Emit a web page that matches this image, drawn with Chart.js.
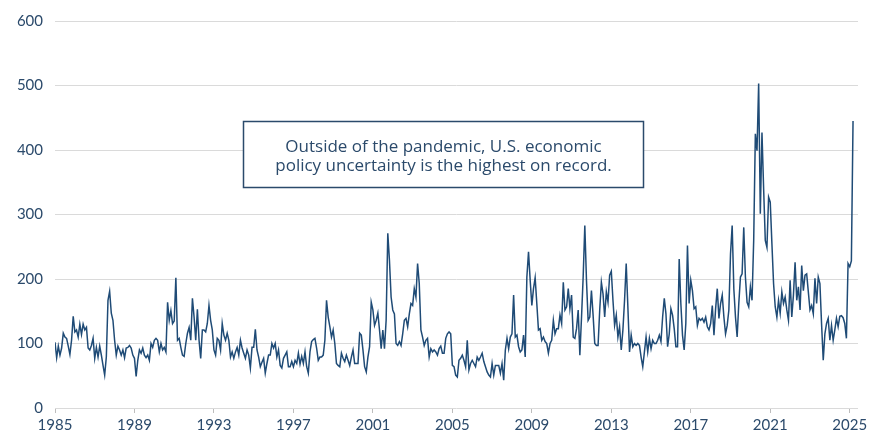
<!DOCTYPE html>
<html><head><meta charset="utf-8">
<script src="https://cdn.jsdelivr.net/npm/chart.js@4.4.1/dist/chart.umd.min.js"></script>
<style>html,body{margin:0;padding:0;background:#fff;}#wrap{width:872px;height:437px;}</style>
</head><body><div id="wrap"><canvas id="c" width="872" height="437"></canvas></div>
<script>
// Monthly U.S. economic policy uncertainty index, Jan 1985 onward
const epu1985_1989 = [
  102, 78, 96, 82, 93, 116, 110, 108, 96, 83, 105, 142,
  118, 121, 110, 130, 114, 130, 121, 125, 93, 90, 97, 108,
  77, 94, 79, 96, 82, 66, 51, 79, 167, 181, 147, 136,
  105, 82, 96, 90, 82, 90, 78, 93, 94, 97, 93, 82,
  77, 49, 74, 90, 85, 93, 82, 78, 82, 74, 100, 94
];
const epu1990_1994 = [
  105, 108, 105, 87, 100, 90, 94, 87, 164, 136, 151, 131,
  135, 202, 105, 108, 94, 82, 80, 100, 116, 125, 105, 170,
  141, 105, 153, 105, 77, 121, 121, 118, 131, 159, 136, 121,
  90, 82, 108, 105, 90, 131, 113, 105, 116, 105, 79, 87,
  77, 87, 94, 82, 105, 93, 85, 77, 90, 82, 62, 94
];
const epu1995_1999 = [
  94, 122, 90, 79, 64, 71, 77, 54, 69, 82, 82, 100,
  93, 100, 79, 90, 66, 62, 77, 82, 87, 64, 64, 72,
  64, 74, 69, 85, 68, 80, 69, 87, 64, 54, 87, 103,
  106, 108, 93, 74, 79, 79, 82, 105, 167, 141, 126, 110,
  121, 100, 69, 66, 64, 85, 77, 72, 82, 74, 66, 79
];
const epu2000_2004 = [
  90, 69, 69, 69, 116, 113, 90, 64, 56, 79, 95, 164,
  152, 128, 136, 147, 121, 92, 121, 92, 136, 271, 229, 172,
  152, 146, 100, 97, 103, 97, 115, 136, 139, 126, 146, 162,
  159, 185, 172, 224, 193, 121, 110, 97, 105, 108, 79, 92,
  87, 90, 87, 82, 92, 96, 85, 85, 108, 115, 118, 115
];
const epu2005_2009 = [
  66, 64, 51, 48, 74, 77, 82, 74, 64, 105, 59, 69,
  74, 69, 64, 79, 74, 79, 85, 72, 64, 56, 51, 48,
  69, 51, 66, 66, 66, 54, 69, 43, 90, 108, 92, 110,
  115, 175, 110, 113, 95, 87, 90, 113, 79, 203, 242, 198,
  159, 185, 202, 162, 121, 123, 105, 110, 103, 100, 85, 100
];
const epu2010_2014 = [
  105, 136, 115, 123, 123, 144, 131, 195, 152, 157, 185, 154,
  175, 110, 108, 123, 152, 82, 140, 203, 283, 198, 136, 141,
  182, 144, 100, 97, 97, 152, 195, 177, 141, 180, 164, 206,
  212, 167, 128, 144, 110, 126, 90, 121, 167, 224, 157, 87,
  113, 95, 100, 97, 100, 97, 79, 64, 87, 110, 87, 108
];
const epu2015_2019 = [
  92, 105, 100, 100, 105, 113, 103, 141, 170, 146, 95, 115,
  154, 144, 123, 95, 95, 231, 162, 113, 90, 131, 252, 162,
  198, 182, 154, 157, 128, 139, 136, 139, 133, 141, 126, 121,
  131, 159, 113, 154, 185, 139, 162, 175, 141, 115, 128, 152,
  239, 283, 185, 141, 110, 162, 203, 208, 280, 203, 164, 157
];
const epu2020_2024 = [
  188, 167, 260, 425, 399, 503, 301, 427, 340, 260, 249, 327,
  319, 255, 193, 157, 141, 167, 147, 180, 162, 172, 152, 136,
  198, 141, 175, 226, 167, 188, 152, 221, 182, 206, 208, 180,
  152, 159, 146, 201, 162, 203, 193, 130, 74, 115, 131, 139,
  105, 128, 105, 121, 139, 126, 142, 143, 140, 131, 108, 224
];
const epu2025 = [219, 228, 445];

const startYear = 1985;
const xTickYears = [1985, 1989, 1993, 1997, 2001, 2005, 2009, 2013, 2017, 2021, 2025];
const yTickValues = [0, 100, 200, 300, 400, 500, 600];
const noteLines = ['Outside of the pandemic, U.S. economic', 'policy uncertainty is the highest on record.'];

const values = [].concat(epu1985_1989, epu1990_1994, epu1995_1999, epu2000_2004,
  epu2005_2009, epu2010_2014, epu2015_2019, epu2020_2024, epu2025);
const points = values.map((v, i) => ({ x: i, y: v }));

const NAVY = '#2b4a6b';
const LINE = '#1f4b76';
const GRID = '#dadada';

// annotation box placement, in data units (month index, index value)
const noteBox = { x0: 113.6, x1: 354.9, y0: 445, y1: 343 };

const notePlugin = {
  id: 'note',
  afterDraw(chart) {
    const { ctx, scales: { x, y } } = chart;
    const l = Math.round(x.getPixelForValue(noteBox.x0)) + 0.5;
    const r = Math.round(x.getPixelForValue(noteBox.x1)) + 0.5;
    const t = Math.round(y.getPixelForValue(noteBox.y0)) + 0.5;
    const b = Math.round(y.getPixelForValue(noteBox.y1)) + 0.5;
    ctx.save();
    ctx.fillStyle = '#fff';
    ctx.fillRect(l, t, r - l, b - t);
    ctx.strokeStyle = NAVY;
    ctx.lineWidth = 1.5;
    ctx.strokeRect(l, t, r - l, b - t);
    ctx.fillStyle = NAVY;
    ctx.font = '17px "Open Sans"';
    ctx.textAlign = 'center';
    ctx.textBaseline = 'alphabetic';
    const cx = (l + r) / 2;
    ctx.fillText(noteLines[0], cx, t + 30);
    ctx.fillText(noteLines[1], cx, t + 49);
    ctx.restore();
  }
};

new Chart(document.getElementById('c'), {
  type: 'line',
  data: {
    datasets: [{
      data: points,
      borderColor: LINE,
      borderWidth: 1.5,
      pointRadius: 0,
      tension: 0,
      fill: false
    }]
  },
  options: {
    responsive: false,
    devicePixelRatio: 1,
    animation: false,
    layout: { padding: { top: 20, right: 14, bottom: 0, left: 0 } },
    plugins: { legend: { display: false }, tooltip: { enabled: false } },
    scales: {
      x: {
        type: 'linear',
        min: 0,
        max: 485,
        afterBuildTicks(scale) {
          scale.ticks = xTickYears.map(yr => ({ value: (yr - startYear) * 12 }));
        },
        afterFit(scale) { scale.height = 29; },
        grid: { drawOnChartArea: false, drawTicks: true, tickLength: 5, color: '#bdbdbd' },
        border: { display: false },
        ticks: {
          autoSkip: false,
          maxRotation: 0,
          padding: 3,
          color: NAVY,
          font: { family: 'Lato', size: 15 },
          callback: (v) => String(startYear + v / 12)
        }
      },
      y: {
        min: 0,
        max: 600,
        afterBuildTicks(scale) {
          scale.ticks = yTickValues.map(v => ({ value: v }));
        },
        afterFit(scale) { scale.width = 55; },
        grid: { color: GRID, lineWidth: 1, drawTicks: false },
        border: { display: false },
        ticks: {
          padding: 12,
          color: NAVY,
          font: { family: 'Lato', size: 15 }
        }
      }
    }
  },
  plugins: [notePlugin]
});
</script>
</body></html>
